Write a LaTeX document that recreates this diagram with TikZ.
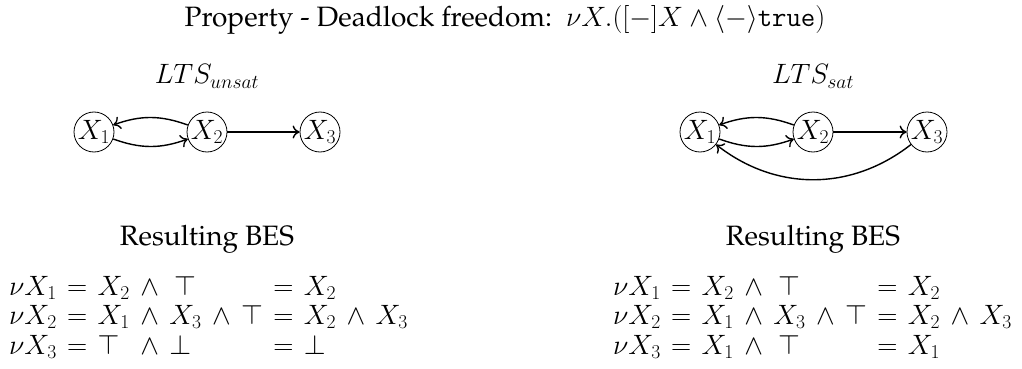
\RequirePackage{fix-cm}
\documentclass[tikz,border=0pt]{standalone}
\usepackage[T1,TU]{fontenc}
\usetikzlibrary{arrows.meta}
\newcommand\palfont{\fontencoding{T1}\fontfamily{ppl}}
\newcommand\ttword[1]{\mbox{\fontencoding{OT1}\fontfamily{cmtt}\fontseries{m}\fontshape{n}\selectfont #1}}
\begin{document}
\begin{tikzpicture}[x=1pt,y=-1pt,
  st/.style={circle,draw,line width=0.8pt,inner sep=0pt,minimum size=40pt,font=\fontsize{28}{30}\selectfont},
  edge/.style={line width=1.4pt,-{Computer Modern Rightarrow[length=7pt,width=13pt,line width=1.4pt]}},
  txt/.style={font=\palfont\fontsize{28}{34}\selectfont,inner sep=0pt,anchor=base},
  lbl/.style={font=\fontsize{28}{34}\selectfont,inner sep=0pt,anchor=base},
  eq/.style={font=\fontsize{28}{29.5}\selectfont\setlength\arraycolsep{5.2pt},inner sep=0pt,anchor=base west}]
\useasboundingbox (0,0) rectangle (1022,369);

\node[txt] (title) at (505,27) {Property - Deadlock freedom:\ \ $\nu X.([-]X \wedge \langle - \rangle \ttword{true})$};

% left LTS
\node[lbl] (lunsat) at (207,84) {$LTS_{unsat}$};
\node[st] (l1) at (94,132) {$X_1$};
\node[st] (l2) at (207,132) {$X_2$};
\node[st] (l3) at (320,132) {$X_3$};
\draw[edge] (l2) to[bend right=20] (l1);
\draw[edge] (l1) to[bend right=20] (l2);
\draw[edge] (l2) -- (l3);

% right LTS
\node[lbl] (rsat) at (813,84) {$LTS_{sat}$};
\node[st] (r1) at (700,132) {$X_1$};
\node[st] (r2) at (813,132) {$X_2$};
\node[st] (r3) at (927,132) {$X_3$};
\draw[edge] (r2) to[bend right=20] (r1);
\draw[edge] (r1) to[bend right=20] (r2);
\draw[edge] (r2) -- (r3);
\draw[edge] (r3) to[bend left=38] (r1);

% BES
\node[txt] (lbes) at (207,245) {Resulting BES};
\node[txt] (rbes) at (813,245) {Resulting BES};

\node[eq] (leq) at (9,295) {$\begin{array}[t]{@{}lllllllllll@{}}
\nu X_1 & = & X_2 & \wedge & \,\top & & & = & X_2 & & \\
\nu X_2 & = & X_1 & \wedge & X_3 & \wedge & \top & = & X_2 & \wedge & X_3 \\
\nu X_3 & = & \top & \wedge & \bot & & & = & \bot & &
\end{array}$};
\node[eq] (req) at (613,295) {$\begin{array}[t]{@{}lllllllllll@{}}
\nu X_1 & = & X_2 & \wedge & \,\top & & & = & X_2 & & \\
\nu X_2 & = & X_1 & \wedge & X_3 & \wedge & \top & = & X_2 & \wedge & X_3 \\
\nu X_3 & = & X_1 & \wedge & \,\top & & & = & X_1 & &
\end{array}$};
\end{tikzpicture}
\end{document}
